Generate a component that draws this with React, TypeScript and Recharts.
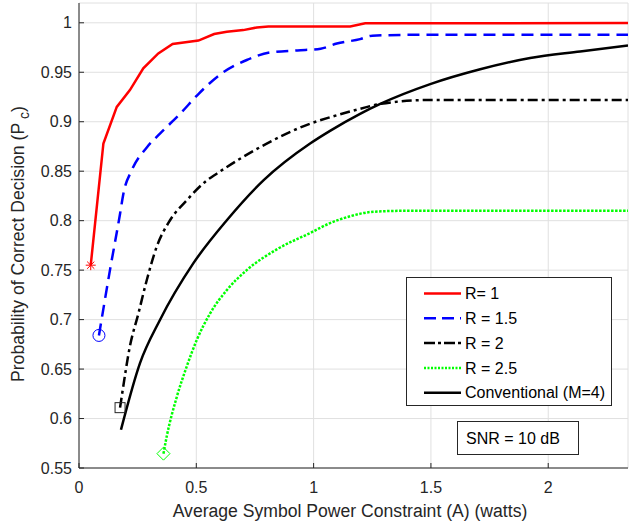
import { LineChart, Line, XAxis, YAxis, CartesianGrid } from "recharts"

const FONT = "'Liberation Sans', Arial, Helvetica, sans-serif"
const AX = "#262626"

const xTicks = [0, 0.5, 1, 1.5, 2]
const yTicks = [0.55, 0.6, 0.65, 0.7, 0.75, 0.8, 0.85, 0.9, 0.95, 1]

// R = 1
const r1X = [0.05, 0.104, 0.161, 0.217, 0.274, 0.338, 0.399, 0.509, 0.576, 0.63, 0.7, 0.758, 0.807, 1.156, 1.22, 2.34]
const r1Y = [0.755, 0.878, 0.915, 0.932, 0.954, 0.969, 0.9785, 0.982, 0.9886, 0.991, 0.9926, 0.9953, 0.9963, 0.9963, 0.9995, 0.9997]

// R = 1.5
const r15X = [0.085, 0.132, 0.175, 0.189, 0.225, 0.289, 0.345, 0.431, 0.509, 0.601, 0.715, 0.814, 0.931, 1.03, 1.099, 1.198, 1.25, 1.5, 2.34]
const r15Y = [0.684, 0.75, 0.807, 0.827, 0.851, 0.874, 0.888, 0.908, 0.928, 0.9476, 0.9624, 0.97, 0.9721, 0.9738, 0.979, 0.9835, 0.987, 0.988, 0.988]

// R = 2
const r2X = [0.175, 0.182, 0.217, 0.253, 0.289, 0.331, 0.388, 0.459, 0.545, 0.587, 0.772, 0.985, 1.07, 1.198, 1.284, 1.497, 2.34]
const r2Y = [0.611, 0.622, 0.673, 0.706, 0.74, 0.7735, 0.8004, 0.8206, 0.8407, 0.8475, 0.8743, 0.898, 0.9045, 0.913, 0.918, 0.922, 0.922]

// R = 2.5
const r25X = [0.36, 0.374, 0.417, 0.459, 0.502, 0.559, 0.63, 0.715, 0.843, 0.985, 1.07, 1.156, 1.255, 1.4, 2.34]
const r25Y = [0.5645, 0.582, 0.622, 0.6525, 0.6794, 0.7063, 0.7298, 0.75, 0.771, 0.7875, 0.7975, 0.8045, 0.809, 0.81, 0.81]

// Conventional (M=4)
const convX = [0.179, 0.26, 0.345, 0.487, 0.63, 0.786, 0.985, 1.07, 1.198, 1.284, 1.497, 1.71, 1.923, 2.136, 2.34]
const convY = [0.5887, 0.656, 0.6996, 0.7568, 0.8004, 0.8407, 0.878, 0.8908, 0.908, 0.918, 0.938, 0.953, 0.9644, 0.971, 0.977]

const toPoints = (xs: number[], ys: number[]) => xs.map((x, i) => ({ x, y: ys[i] }))

function firstMarker(kind: string, color: string) {
  return (props: any) => {
    const { cx, cy, index } = props
    if (index !== 0) return <g key={`m-${kind}-${index}`} />
    const common = { stroke: color, strokeWidth: 1, fill: "none" }
    if (kind === "star") {
      return (
        <g key={`m-${kind}`} {...common}>
          <line x1={cx - 5} y1={cy} x2={cx + 5} y2={cy} />
          <line x1={cx} y1={cy - 5} x2={cx} y2={cy + 5} />
          <line x1={cx - 3.6} y1={cy - 3.6} x2={cx + 3.6} y2={cy + 3.6} />
          <line x1={cx - 3.6} y1={cy + 3.6} x2={cx + 3.6} y2={cy - 3.6} />
        </g>
      )
    }
    if (kind === "circle") return <circle key={`m-${kind}`} cx={cx} cy={cy} r={6} {...common} />
    if (kind === "square") return <rect key={`m-${kind}`} x={cx - 5} y={cy - 5} width={10} height={10} {...common} />
    return (
      <path key={`m-${kind}`} d={`M${cx},${cy - 6.5}L${cx + 6.5},${cy}L${cx},${cy + 6.5}L${cx - 6.5},${cy}Z`} {...common} />
    )
  }
}

const legendItems = [
  { label: "R= 1", color: "#ff0000", dash: undefined },
  { label: "R = 1.5", color: "#0000ff", dash: "12 6" },
  { label: "R = 2", color: "#000000", dash: "11 3 3 3" },
  { label: "R = 2.5", color: "#00ff00", dash: "2 1.5" },
  { label: "Conventional (M=4)", color: "#000000", dash: undefined },
]

const tickStyle = { fontSize: 16, fill: AX, fontFamily: FONT }
const noTick = () => <g />

export default function App() {
  return (
    <div style={{ position: "absolute", left: 0, top: 0, width: 629, height: 529, background: "#fff", fontFamily: FONT }}>
      <LineChart width={629} height={529} margin={{ top: 3, right: 1, bottom: 0, left: 0 }}>
        <CartesianGrid stroke="#e0e0e0" strokeWidth={1} />
        <XAxis
          type="number"
          dataKey="x"
          domain={[0, 2.34]}
          ticks={xTicks}
          allowDataOverflow
          height={61}
          tickSize={-5}
          tickMargin={19}
          stroke={AX}
          tick={tickStyle}
        />
        <XAxis
          xAxisId="top"
          orientation="top"
          type="number"
          dataKey="x"
          domain={[0, 2.34]}
          ticks={xTicks}
          allowDataOverflow
          height={0}
          tickSize={-5}
          stroke={AX}
          tick={noTick}
        />
        <YAxis
          type="number"
          domain={[0.55, 1.02]}
          ticks={yTicks}
          allowDataOverflow
          width={79}
          tickSize={-5}
          tickMargin={12}
          stroke={AX}
          tick={tickStyle}
        />
        <YAxis
          yAxisId="right"
          orientation="right"
          type="number"
          domain={[0.55, 1.02]}
          ticks={yTicks}
          allowDataOverflow
          width={0}
          tickSize={-5}
          stroke={AX}
          tick={noTick}
        />
        <Line data={toPoints(r1X, r1Y)} dataKey="y" type="linear" stroke="#ff0000" strokeWidth={2.5}
              dot={firstMarker("star", "#ff0000")} isAnimationActive={false} />
        <Line data={toPoints(r15X, r15Y)} dataKey="y" type="monotone" stroke="#0000ff" strokeWidth={2.5}
              strokeDasharray="12 7" dot={firstMarker("circle", "#0000ff")} isAnimationActive={false} />
        <Line data={toPoints(r2X, r2Y)} dataKey="y" type="monotone" stroke="#000000" strokeWidth={2.5}
              strokeDasharray="10 4 3 4" dot={firstMarker("square", AX)} isAnimationActive={false} />
        <Line data={toPoints(r25X, r25Y)} dataKey="y" type="monotone" stroke="#00ff00" strokeWidth={2.5}
              strokeDasharray="2.5 1.5" dot={firstMarker("diamond", "#00ff00")} isAnimationActive={false} />
        <Line data={toPoints(convX, convY)} dataKey="y" type="monotone" stroke="#000000" strokeWidth={2.5}
              dot={false} isAnimationActive={false} />
      </LineChart>

      <svg width={629} height={529} style={{ position: "absolute", left: 0, top: 0, pointerEvents: "none" }}>
        <text x={350} y={517} textAnchor="middle" fontSize={17.6} fill={AX} fontFamily={FONT}>
          Average Symbol Power Constraint (A) (watts)
        </text>
        <text transform="translate(24,244) rotate(-90)" textAnchor="middle" fontSize={17.6} fill={AX} fontFamily={FONT}>
          Probability of Correct Decision (P<tspan dx={4} dy={5} fontSize={14}>c</tspan><tspan dy={-5}>)</tspan>
        </text>

        <rect x={406.5} y={277.5} width={205} height={128} fill="#fff" stroke={AX} strokeWidth={1} />
        {legendItems.map((it, i) => {
          const cy = 293.5 + i * 24.8
          return (
            <g key={it.label}>
              <line x1={424} y1={cy} x2={461} y2={cy} stroke={it.color} strokeWidth={2.5} strokeDasharray={it.dash} />
              <text x={465} y={cy + 5.7} fontSize={16} fill="#000" fontFamily={FONT}>{it.label}</text>
            </g>
          )
        })}

        <rect x={457.5} y={421.5} width={121} height={33} fill="#fff" stroke={AX} strokeWidth={1} />
        <text x={466} y={444} fontSize={16} fill="#000" fontFamily={FONT}>SNR = 10 dB</text>
      </svg>
    </div>
  )
}
